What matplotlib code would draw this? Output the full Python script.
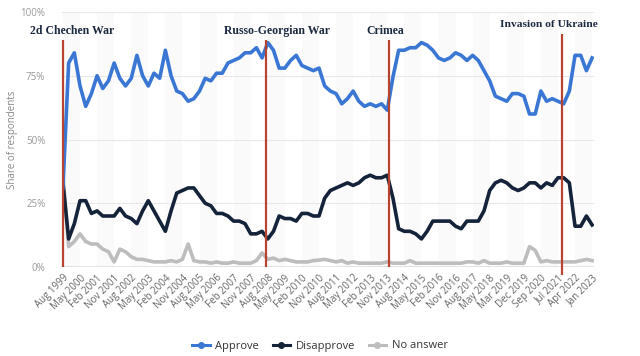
import matplotlib
matplotlib.use("Agg")
import matplotlib.pyplot as plt
import numpy as np
from matplotlib.lines import Line2D

# one value every 3 survey waves (category index 0, 3, 6, ... 279)
STEP = 3
approve = [31, 80, 84, 71, 63, 68, 75, 70, 73, 80, 74, 71, 74, 83, 75, 71,
           76, 74, 85, 75, 69, 68, 65, 66, 69, 74, 73, 76, 76, 80, 81, 82,
           84, 84, 86, 82, 88, 85, 78, 78, 81, 83, 79, 78, 77, 78, 71, 69,
           68, 64, 66, 69, 65, 63, 64, 63, 64, 61.5, 74.5, 85, 85, 86, 86, 88,
           87, 85, 82, 81, 82, 84, 83, 81, 83, 81, 77, 73, 67, 66, 65, 68,
           68, 67, 60, 60, 69, 65, 66, 65, 64, 69, 83, 83, 77, 82]
disapprove = [33, 11, 17, 26, 26, 21, 22, 20, 20, 20, 23, 20, 19, 17, 22, 26,
              22, 18, 14, 22, 29, 30, 31, 31, 28, 25, 24, 21, 21, 20, 18, 18,
              17, 13, 13, 14, 11, 14, 20, 19, 19, 18, 21, 21, 20, 20, 27, 30,
              31, 32, 33, 32, 33, 35, 36, 35, 35, 36, 27, 15, 14, 14, 13, 11,
              14, 18, 18, 18, 18, 16, 15, 18, 18, 18, 22, 30, 33, 34, 33, 31,
              30, 31, 33, 33, 31, 33, 32, 35, 35, 33, 16, 16, 20, 16.5]
no_answer = [36, 8, 10, 13, 10, 9, 9, 7, 6, 2, 7, 6, 4, 3, 3, 2.5,
             2, 2, 2, 2.5, 2, 3, 9, 2.5, 2, 2, 1.5, 2, 1.5, 1.5, 2, 1.5,
             1.5, 1.5, 2.5, 5.5, 3, 3.5, 2.5, 3, 2.5, 2, 2, 2, 2.5, 2.7, 3, 2.5,
             2, 2.5, 1.5, 2, 1.5, 1.5, 1.5, 1.5, 1.5, 2, 1.5, 1.5, 1.5, 2.5, 1.5, 1.5,
             1.5, 1.5, 1.5, 1.5, 1.5, 1.5, 1.5, 2, 2, 1.5, 2.5, 1.5, 1.5, 1.5, 2, 1.5,
             1.5, 1.5, 8, 6.5, 2, 2.5, 2, 2, 2, 2, 2, 2.5, 3, 2.5]

tick_labels = ["Aug 1999", "May 2000", "Feb 2001", "Nov 2001", "Aug 2002",
               "May 2003", "Feb 2004", "Nov 2004", "Aug 2005", "May 2006",
               "Feb 2007", "Nov 2007", "Aug 2008", "May 2009", "Feb 2010",
               "Nov 2010", "Aug 2011", "May 2012", "Feb 2013", "Nov 2013",
               "Aug 2014", "May 2015", "Feb 2016", "Nov 2016", "Aug 2017",
               "May 2018", "Mar 2019", "Dec 2019", "Sep 2020", "Jul 2021",
               "Apr 2022", "Jan 2023"]
TICK_EVERY = 9

events = ["2d Chechen War", "Russo-Georgian War", "Crimea", "Invasion of Ukraine"]
event_idx = [0, 107, 172, 263]

C_APP = "#3a77d4"
C_DIS = "#14233a"
C_NA = "#bdbdbd"
C_EVT = "#b8432f"

plt.rcParams.update({
    "font.family": ["Open Sans", "DejaVu Sans"],
    "axes.unicode_minus": False,
})

fig = plt.figure(figsize=(6.4, 3.56), dpi=100)
ax = fig.add_axes([62 / 640, 1 - 267 / 356, (594 - 62) / 640, (267 - 12) / 356])

n = len(approve)
x = np.arange(n) * STEP
ticks = np.arange(len(tick_labels)) * TICK_EVERY

# alternating column shading (very faint)
for k in range(0, len(ticks) - 1, 2):
    ax.axvspan(ticks[k], ticks[k + 1], color="#fafafa", zorder=0, lw=0)

for v in [25, 50, 75, 100]:
    ax.axhline(v, color="#e8e8e8", lw=0.8, zorder=1)

ax.plot(x, no_answer, color=C_NA, lw=2.6, zorder=3)
ax.plot(x, disapprove, color=C_DIS, lw=2.6, zorder=4)
ax.plot(x, approve, color=C_APP, lw=2.6, zorder=5)

ax.axhline(0, color="#777777", lw=1.0, zorder=6)

# event markers
for name, i in zip(events, event_idx):
    top = 91.5 if name.startswith("Invasion") else 89
    bottom = -3 if name.startswith("Invasion") else 0
    ax.plot([i, i], [bottom, top], color=C_EVT, lw=1.6, zorder=7,
            clip_on=False, solid_capstyle="butt")

txt = dict(family=["Liberation Serif", "DejaVu Serif"], fontweight="bold",
           color="#1c2a40", va="center", ha="center", zorder=8)
ax.text(5, 92.5, events[0], fontsize=8.5, **txt)
ax.text(113, 92.5, events[1], fontsize=8.5, **txt)
ax.text(170, 92.5, events[2], fontsize=8.5, **txt)
ax.text(256, 95, events[3], fontsize=8.2, **txt)

ax.set_xlim(-0.5, 280)
ax.set_ylim(0, 100)
ax.set_xticks(ticks)
ax.set_xticklabels(tick_labels, rotation=45, ha="right", rotation_mode="anchor",
                   fontsize=7, color="#666666")
ax.set_yticks([0, 25, 50, 75, 100])
ax.set_yticklabels(["0%", "25%", "50%", "75%", "100%"], fontsize=7, color="#999999")
ax.tick_params(axis="both", length=0)
ax.tick_params(axis="y", pad=12)
ax.tick_params(axis="x", pad=4)
for s in ax.spines.values():
    s.set_visible(False)
ax.set_ylabel("Share of respondents", fontsize=7, color="#888888")
ax.yaxis.set_label_coords(-0.082, 0.5)

handles = [Line2D([], [], color=c, lw=2.2, marker="o", markersize=4)
           for c in (C_APP, C_DIS, C_NA)]
fig.legend(handles, ["Approve", "Disapprove", "No answer"], loc="center",
           bbox_to_anchor=(0.5, 1 - 346 / 356), ncol=3, frameon=False,
           fontsize=8, handlelength=1.6, columnspacing=1.2, handletextpad=0.5,
           labelcolor="#333333")

fig.savefig("out.png", dpi=100, facecolor="white")
